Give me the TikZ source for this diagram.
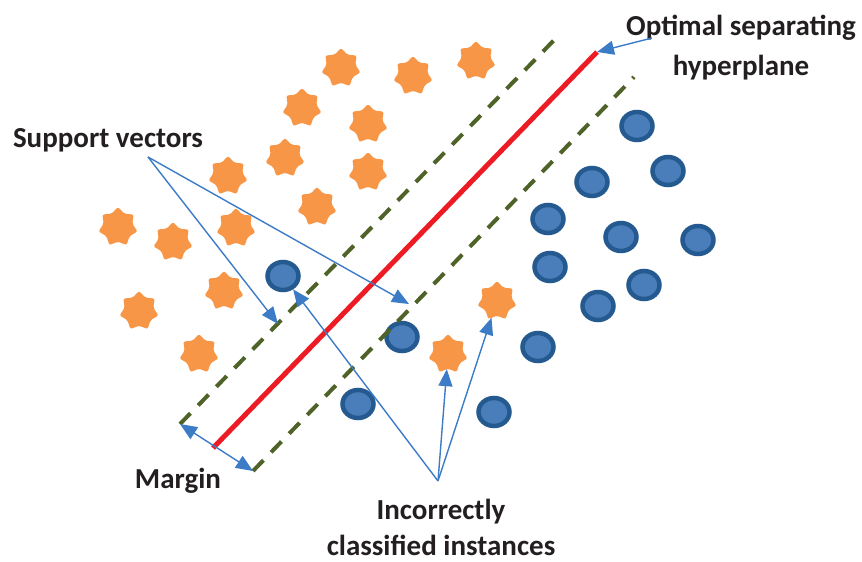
\documentclass[tikz,border=0pt]{standalone}
\usepackage{fontspec}
\setmainfont{Carlito}
\usetikzlibrary{shapes.geometric,arrows.meta}
\definecolor{starfill}{HTML}{F79646}
\definecolor{dotfill}{HTML}{4A7EBB}
\definecolor{dotline}{HTML}{245A8F}
\definecolor{planered}{HTML}{ED1C24}
\definecolor{marginline}{HTML}{4F6228}
\definecolor{arrowblue}{HTML}{3C7BC6}
\definecolor{labeltext}{HTML}{231F20}

\begin{document}
\begin{tikzpicture}[x=1pt,y=-1pt,
  classA/.style={star, star points=7, star point ratio=1.36, minimum size=40pt,
    inner sep=0pt, outer sep=0pt, fill=starfill, rounded corners=2pt},
  classB/.style={ellipse, minimum width=31pt, minimum height=28pt, inner sep=0pt,
    fill=dotfill, draw=dotline, line width=4.5pt},
  hyperplane/.style={draw=planered, line width=5pt},
  marginplane/.style={draw=marginline, line width=4pt, dash pattern=on 15pt off 11pt},
  pointer/.style={draw=arrowblue, line width=1.4pt, -{Triangle[length=17pt,width=14pt]}},
  twoway/.style={draw=arrowblue, line width=1.4pt,
    {Triangle[length=17pt,width=14pt]}-{Triangle[length=17pt,width=14pt]}},
  caption/.style={font=\fontsize{29}{38}\selectfont\bfseries, text=labeltext,
    align=center, inner sep=0pt}]

\useasboundingbox (0,0) rectangle (862,562);

% class A samples (stars)
\foreach \n/\px/\py in {s1/341/68, s2/413/76, s3/476/61, s4/302/108, s5/368/124,
    s6/285/158, s7/368/172, s8/228/176, s9/317/207, s10/118/227, s11/173/242,
    s12/236/228, s13/224/291, s14/139/311, s15/199/354, s16/497/301, s17/448/354}
  \node[classA] (\n) at (\px,\py) {};

% class B samples (circles)
\foreach \n/\px/\py in {c1/637/126, c2/668/171, c3/592/182, c4/548/219, c5/621/237,
    c6/698/240, c7/550/267, c8/644/285, c9/598/306, c10/283/276, c11/402/337,
    c12/538/347, c13/358/404, c14/494/412}
  \node[classB] (\n) at (\px,\py) {};

% separating hyperplane and margin boundaries
\coordinate (hpA) at (213,448);
\coordinate (hpB) at (597,52);
\coordinate (upA) at (180,424);
\coordinate (upB) at (561,33);
\coordinate (loA) at (253,471);
\coordinate (loB) at (634,77);
\draw[marginplane] (upA) -- (upB);
\draw[marginplane] (loA) -- (loB);
\draw[hyperplane] (hpA) -- (hpB);

% labels (base anchor sits on the last line)
\node[caption, anchor=base] (sv) at (108,147) {Support vectors};
\node[caption, anchor=base, font=\fontsize{29}{40}\selectfont\bfseries]
  (osh) at (741,75) {Optimal separating\\hyperplane};
\node[caption, anchor=base] (mg) at (178,488) {Margin};
\node[caption, anchor=base, font=\fontsize{29}{36}\selectfont\bfseries]
  (ici) at (441,555) {Incorrectly\\classified instances};

% pointers
\coordinate (svRoot) at (148,157);
\coordinate (svUp) at (278,324);
\coordinate (svLo) at (409,304);
\draw[pointer] (svRoot) -- (svUp);
\draw[pointer] (svRoot) -- (svLo);

\coordinate (oshRoot) at (652,38);
\draw[pointer] (oshRoot) -- (hpB);

\draw[twoway] (upA) -- (loA);

\coordinate (iciRoot) at (438,481);
\draw[pointer] (iciRoot) -- (c10);
\draw[pointer] (iciRoot) -- (s17);
\draw[pointer] (iciRoot) -- (s16);
\end{tikzpicture}
\end{document}
